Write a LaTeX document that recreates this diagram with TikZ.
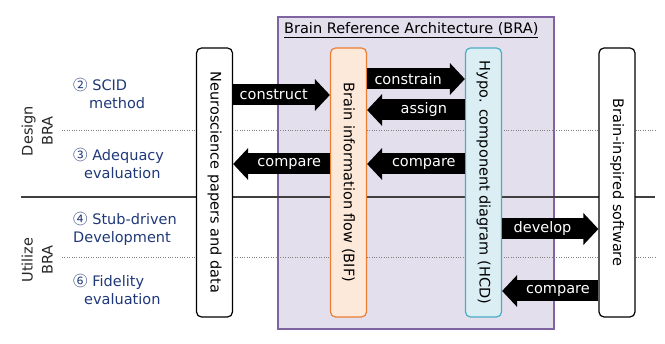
\documentclass[tikz,border=0pt]{standalone}
\usepackage{fontspec}
\setmainfont{DejaVu Sans}
\newfontfamily\cjkfont{Noto Sans CJK JP}
\usetikzlibrary{arrows.meta}
\definecolor{braline}{RGB}{128,100,162}
\definecolor{brafill}{RGB}{228,223,236}
\definecolor{bifline}{RGB}{237,125,49}
\definecolor{biffill}{RGB}{253,233,217}
\definecolor{hcdline}{RGB}{75,172,198}
\definecolor{hcdfill}{RGB}{218,238,243}
\definecolor{phaseblue}{RGB}{31,56,120}
\newcommand{\stepno}[1]{{\cjkfont #1}}
\tikzset{
  column/.style={draw,fill=white,rounded corners=5pt,line width=1.2pt,rotate=-90,minimum width=269pt,minimum height=36pt,inner sep=0pt},
  flow/.style={line width=21pt,-{Triangle[length=15pt,width=31pt]}},
  flowlabel/.style={text=white,pos=0.42,inner sep=0pt},
  phase/.style={text=phaseblue,align=left,anchor=west,inner sep=0pt},
  part/.style={text=black!85,rotate=90,align=center,inner sep=0pt,font=\fontsize{14.5}{20}\selectfont}
}
\begin{document}
\begin{tikzpicture}[x=1pt,y=-1pt,font=\fontsize{14.5}{18}\selectfont]
  \useasboundingbox (0,0) rectangle (665,344);
  \draw[braline,fill=brafill,line width=1.2pt] (278,17) rectangle (554,329);
  \node[anchor=base west,inner sep=0pt] (title) at (284,34) {\underline{Brain Reference Architecture (BRA)}};
  \draw[line width=1.2pt,black!75] (21,197) -- (655,197);
  \draw[dotted,gray] (62,130) -- (655,130) (62,257) -- (655,257);
  \node[column] (neuro) at (214.5,182.5) {Neuroscience papers and data};
  \node[column,draw=bifline,fill=biffill] (bif) at (348.5,182.5) {Brain information flow (BIF)};
  \node[column,draw=hcdline,fill=hcdfill] (hcd) at (483.5,182.5) {Hypo. component diagram (HCD)};
  \node[column] (soft) at (617,182.5) {Brain-inspired software};
  \foreach \src/\dst/\row/\word in {neuro.north/bif.south/95/construct,bif.north/hcd.south/79/constrain,hcd.south/bif.north/110/assign,hcd.south/bif.north/164/compare,bif.south/neuro.north/164/compare,hcd.north/soft.south/229/develop,soft.south/hcd.north/291/compare}
    \draw[flow] (\src |- 0,\row) -- node[flowlabel]{\word} (\dst |- 0,\row);
  \node[part] (design) at (37,131) {Design\\BRA};
  \node[part] (utilize) at (37,260) {Utilize\\BRA};
  \node[phase] (scid) at (73,93) {\stepno{②} SCID\\\hspace*{16pt}method};
  \node[phase] (adequacy) at (73,163) {\stepno{③} Adequacy\\\hspace*{11pt}evaluation};
  \node[phase] (stub) at (73,228.5) {\stepno{④} Stub-driven\\Development};
  \node[phase] (fidelity) at (73,289) {\stepno{⑥} Fidelity\\\hspace*{11pt}evaluation};
\end{tikzpicture}
\end{document}
